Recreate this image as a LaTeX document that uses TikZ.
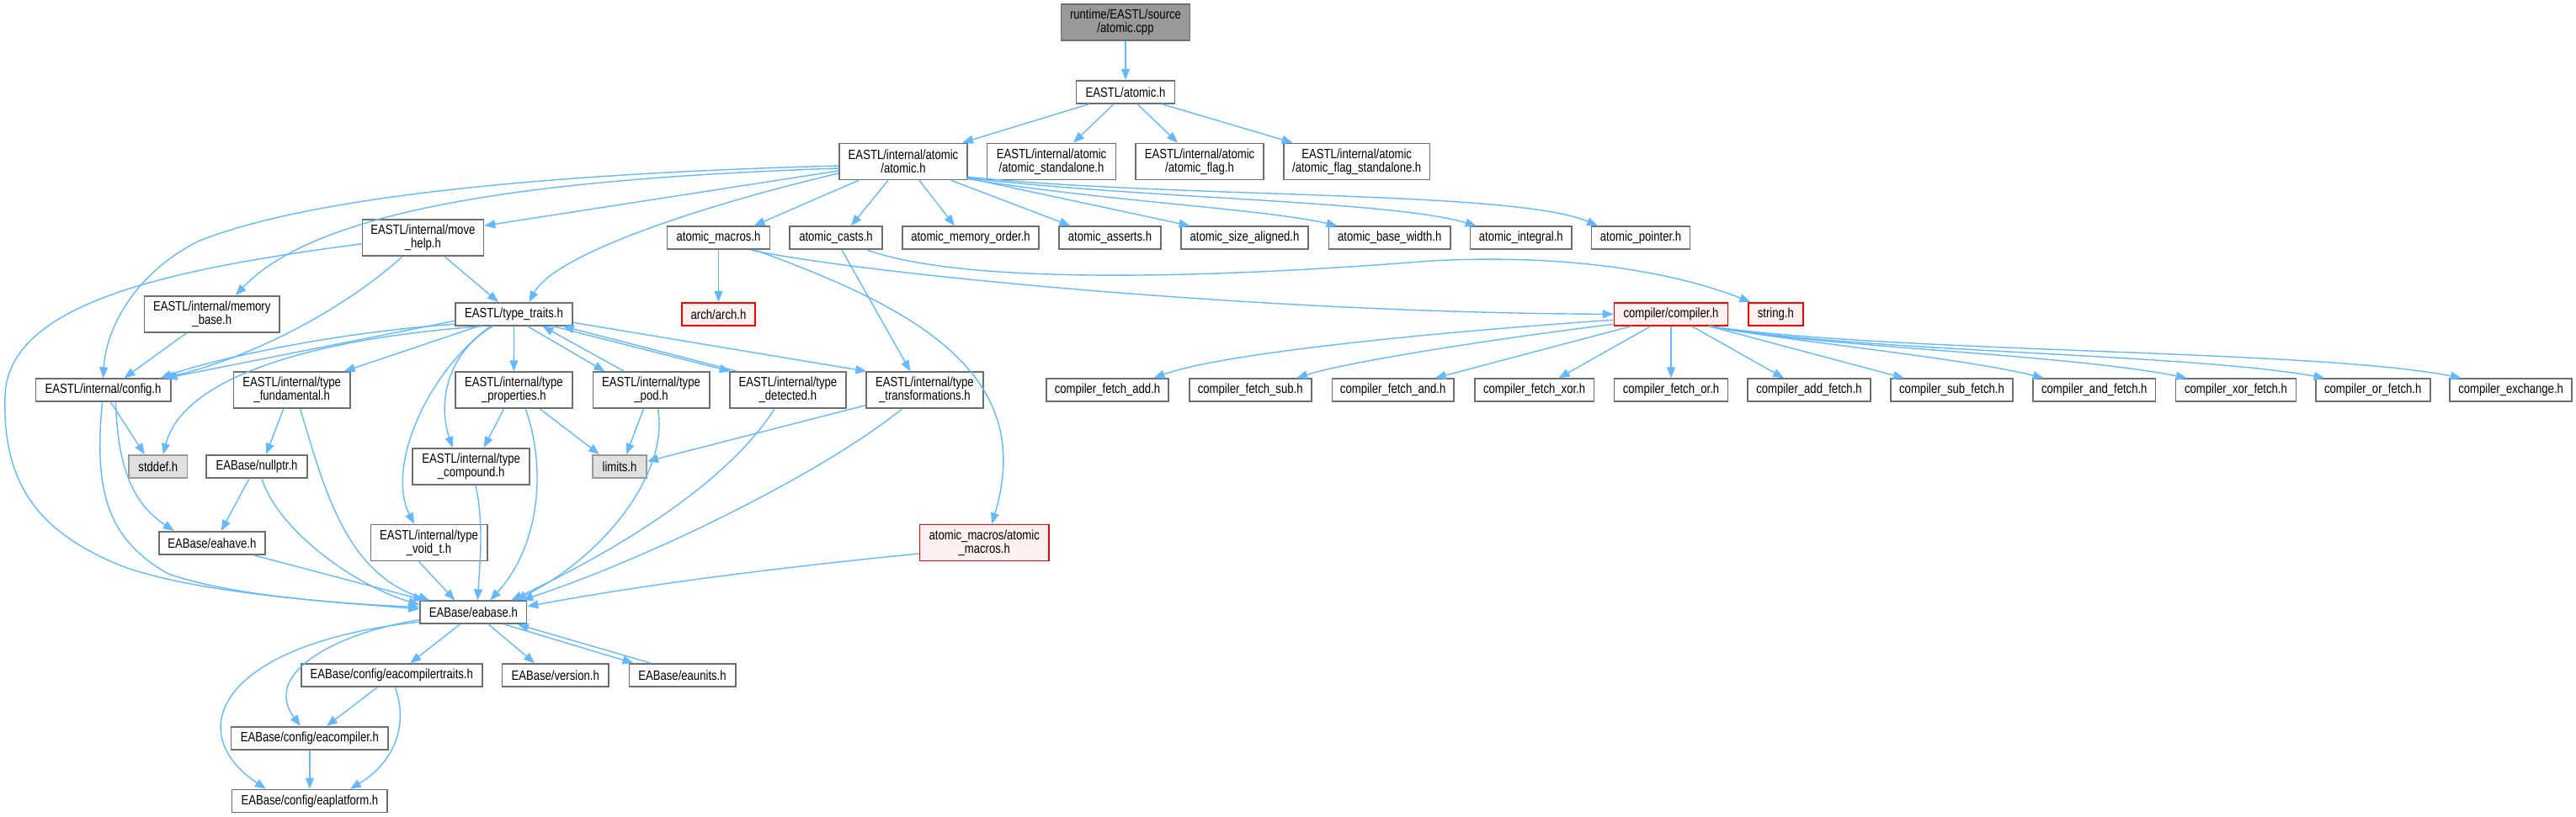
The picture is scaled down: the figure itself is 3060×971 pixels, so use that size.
\documentclass[tikz,border=0pt]{standalone}
\usepackage{fontspec}
\newfontfamily\dfont[FakeStretch=0.82]{Liberation Sans}
\usetikzlibrary{arrows.meta}
\definecolor{edgec}{HTML}{63B8FF}
\definecolor{ndborder}{HTML}{6E6E6E}
\definecolor{rootfill}{HTML}{999999}
\definecolor{sysfill}{HTML}{E0E0E0}
\definecolor{sysborder}{HTML}{999999}
\definecolor{truncfill}{HTML}{FFF0F0}
\definecolor{truncborder}{HTML}{FF0000}
\tikzset{
  nd/.style={draw=ndborder, fill=white, line width=1.7pt, minimum height=27pt, inner sep=0pt, align=center, font={\dfont\fontsize{16pt}{16pt}\selectfont}},
  two/.style={minimum height=43pt},
  rootnd/.style={fill=rootfill, draw=ndborder},
  sysnd/.style={fill=sysfill, draw=sysborder},
  truncnd/.style={fill=truncfill, draw=truncborder},
  e/.style={draw=edgec, line width=1.4pt, -{Triangle[length=13pt,width=10pt]}}
}
\begin{document}
\begin{tikzpicture}[x=1pt,y=-1pt]
\useasboundingbox (0,0) rectangle (3060,971);
% nodes
\node[nd,two,rootnd,minimum width=153pt] (root) at (1337,26.7) {runtime/EASTL/source\\/atomic.cpp};
\node[nd,minimum width=117pt] (atomich) at (1337,109.3) {EASTL/atomic.h};
\node[nd,two,minimum width=152pt] (iatomic) at (1073,192) {EASTL/internal/atomic\\/atomic.h};
\node[nd,two,minimum width=153pt] (standalone) at (1249,192) {EASTL/internal/atomic\\/atomic\_standalone.h};
\node[nd,two,minimum width=152.5pt] (flag) at (1425,192) {EASTL/internal/atomic\\/atomic\_flag.h};
\node[nd,two,minimum width=173.5pt] (flagsa) at (1611.7,192) {EASTL/internal/atomic\\/atomic\_flag\_standalone.h};
\node[nd,two,minimum width=144pt] (movehelp) at (502.4,282.8) {EASTL/internal/move\\\_help.h};
\node[nd,minimum width=122pt] (macros) at (853.5,282.7) {atomic\_macros.h};
\node[nd,minimum width=109.5pt] (casts) at (993,282.7) {atomic\_casts.h};
\node[nd,minimum width=161.5pt] (memorder) at (1153,282.7) {atomic\_memory\_order.h};
\node[nd,minimum width=121pt] (asserts) at (1318.5,282.7) {atomic\_asserts.h};
\node[nd,minimum width=150.5pt] (sizealigned) at (1478.5,282.7) {atomic\_size\_aligned.h};
\node[nd,minimum width=144.7pt] (basewidth) at (1650.7,282.7) {atomic\_base\_width.h};
\node[nd,minimum width=120.5pt] (integral) at (1806.8,282.7) {atomic\_integral.h};
\node[nd,minimum width=117pt] (pointer) at (1949,282.7) {atomic\_pointer.h};
\node[nd,two,minimum width=160.7pt] (membase) at (251.8,373.3) {EASTL/internal/memory\\\_base.h};
\node[nd,minimum width=139pt] (typetraits) at (610.5,373.3) {EASTL/type\_traits.h};
\node[nd,truncnd,minimum width=86.5pt] (arch) at (853.5,373.3) {arch/arch.h};
\node[nd,truncnd,minimum width=135pt] (compiler) at (1985,373.3) {compiler/compiler.h};
\node[nd,truncnd,minimum width=64.8pt] (stringh) at (2109.4,373.3) {string.h};
\node[nd,minimum width=160.3pt] (config) at (122.5,463.7) {EASTL/internal/config.h};
\node[nd,two,minimum width=138.2pt] (fundamental) at (346.7,463.7) {EASTL/internal/type\\\_fundamental.h};
\node[nd,two,minimum width=139pt] (properties) at (610.4,463.7) {EASTL/internal/type\\\_properties.h};
\node[nd,two,minimum width=138.3pt] (pod) at (773.5,463.7) {EASTL/internal/type\\\_pod.h};
\node[nd,two,minimum width=138.2pt] (detected) at (935.9,463.7) {EASTL/internal/type\\\_detected.h};
\node[nd,two,minimum width=138.8pt] (transformations) at (1098.4,463.7) {EASTL/internal/type\\\_transformations.h};
\node[nd,minimum width=145pt] (cfadd) at (1315.5,463.7) {compiler\_fetch\_add.h};
\node[nd,minimum width=145pt] (cfsub) at (1485.2,463.7) {compiler\_fetch\_sub.h};
\node[nd,minimum width=144.6pt] (cfand) at (1654.7,463.7) {compiler\_fetch\_and.h};
\node[nd,minimum width=141.8pt] (cfxor) at (1822.6,463.7) {compiler\_fetch\_xor.h};
\node[nd,minimum width=135pt] (cfor) at (1985,463.7) {compiler\_fetch\_or.h};
\node[nd,minimum width=145.4pt] (caddf) at (2149,463.7) {compiler\_add\_fetch.h};
\node[nd,minimum width=145.4pt] (csubf) at (2318.5,463.7) {compiler\_sub\_fetch.h};
\node[nd,minimum width=145.4pt] (candf) at (2487.8,463.7) {compiler\_and\_fetch.h};
\node[nd,minimum width=143pt] (cxorf) at (2656,463.7) {compiler\_xor\_fetch.h};
\node[nd,minimum width=136pt] (corf) at (2818.7,463.7) {compiler\_or\_fetch.h};
\node[nd,minimum width=144.8pt] (cexch) at (2982.6,463.7) {compiler\_exchange.h};
\node[nd,sysnd,minimum width=69.4pt] (stddef) at (187.8,554.3) {stddef.h};
\node[nd,minimum width=119.4pt] (nullptr) at (305,554.3) {EABase/nullptr.h};
\node[nd,two,minimum width=138.8pt] (compound) at (559.7,554.3) {EASTL/internal/type\\\_compound.h};
\node[nd,sysnd,minimum width=64pt] (limits) at (736,554.3) {limits.h};
\node[nd,minimum width=126pt] (eahave) at (251.8,645.3) {EABase/eahave.h};
\node[nd,two,minimum width=138.3pt] (voidt) at (509.5,645) {EASTL/internal/type\\\_void\_t.h};
\node[nd,two,truncnd,minimum width=153.5pt] (amacros) at (1169.2,645) {atomic\_macros/atomic\\\_macros.h};
\node[nd,minimum width=126.5pt] (eabase) at (562.3,727.7) {EABase/eabase.h};
\node[nd,minimum width=215.3pt] (traits) at (465.3,802.5) {EABase/config/eacompilertraits.h};
\node[nd,minimum width=126.6pt] (version) at (659.7,802.5) {EABase/version.h};
\node[nd,minimum width=126.3pt] (eaunits) at (810.5,802.5) {EABase/eaunits.h};
\node[nd,minimum width=186.7pt] (eacompiler) at (367.9,877.2) {EABase/config/eacompiler.h};
\node[nd,minimum width=184.7pt] (eaplatform) at (367.9,952) {EABase/config/eaplatform.h};
% edges
\draw[e] (root) -- (atomich);
\draw[e] ([xshift=-43pt]atomich.south) -- ([xshift=70pt]iatomic.north);
\draw[e] ([xshift=-14pt]atomich.south) -- ([xshift=26pt]standalone.north);
\draw[e] ([xshift=14pt]atomich.south) -- ([xshift=-26pt]flag.north);
\draw[e] ([xshift=43pt]atomich.south) -- ([xshift=-76pt]flagsa.north);
% from internal atomic.h
\draw[e] ([xshift=-53pt]iatomic.south) -- ([xshift=42pt]macros.north);
\draw[e] ([xshift=-18pt]iatomic.south) -- ([xshift=18pt]casts.north);
\draw[e] ([xshift=19pt]iatomic.south) -- ([xshift=-19pt]memorder.north);
\draw[e] ([xshift=57pt]iatomic.south) -- ([xshift=-47pt]asserts.north);
\draw[e] ([xshift=-2pt,yshift=3pt]iatomic.south east) -- ([xshift=-65pt]sizealigned.north);
\draw[e] ([xshift=-1pt,yshift=2pt]iatomic.south east) .. controls (1300,238) and (1500,248) .. ([xshift=-62pt]basewidth.north);
\draw[e] ([yshift=3pt]iatomic.south east) .. controls (1350,236) and (1650,238) .. ([xshift=-53pt]integral.north);
\draw[e] ([yshift=4pt]iatomic.south east) .. controls (1400,236) and (1800,226) .. ([xshift=-51pt]pointer.north);
\draw[e] ([yshift=-11pt]iatomic.west) -- ([yshift=14.5pt]movehelp.east);
\draw[e] ([yshift=-14pt]iatomic.west) .. controls (850,240) and (660,300) .. ([xshift=18pt]typetraits.north);
\draw[e] ([yshift=-5pt]iatomic.west) .. controls (700,205) and (380,228) .. (235,287) .. controls (160,325) and (126,390) .. (config.north);
\draw[e] ([yshift=-8pt]iatomic.west) .. controls (650,212) and (380,245) .. ([xshift=28pt]membase.north);
% move_help
\draw[e] ([xshift=26pt]movehelp.south) -- ([xshift=-18.5pt]typetraits.north);
\draw[e] ([xshift=-25pt]movehelp.south) .. controls (430,350) and (320,420) .. ([xshift=72pt]config.north);
\draw[e] ([yshift=-7pt]movehelp.west) .. controls (200,320) and (10,360) .. (6,470) .. controls (3,570) and (40,630) .. (143,672) .. controls (230,705) and (400,716) .. ([yshift=4pt]eabase.west);
% memory_base
\draw[e] ([xshift=-30pt]membase.south) -- ([xshift=25pt]config.north);
% type_traits
\draw[e] ([yshift=-8pt]typetraits.west) -- ([xshift=75pt]config.north);
\draw[e] ([yshift=-12pt]typetraits.west) .. controls (400,395) and (260,425) .. ([xshift=68pt]config.north);
\draw[e] ([xshift=-36pt]typetraits.south) .. controls (400,400) and (220,440) .. ([xshift=6pt]stddef.north);
\draw[e] ([xshift=-42pt]typetraits.south) -- ([xshift=62pt]fundamental.north);
\draw[e] ([xshift=-28pt]typetraits.south) .. controls (500,450) and (460,560) .. ([xshift=-17.5pt]voidt.north);
\draw[e] ([xshift=-25pt]typetraits.south) .. controls (530,420) and (520,480) .. ([xshift=-22pt]compound.north);
\draw[e] (typetraits) -- (properties);
\draw[e] ([xshift=16pt]typetraits.south) -- ([xshift=-55pt]pod.north);
\draw[e] ([xshift=-32pt]pod.north) -- ([xshift=34pt]typetraits.south);
\draw[e] ([xshift=46pt]typetraits.south) -- ([xshift=-68pt]detected.north);
\draw[e] ([xshift=-60pt]detected.north) -- ([xshift=58pt]typetraits.south);
\draw[e] ([yshift=-10pt]typetraits.east) -- ([xshift=-69pt]transformations.north);
% pod, properties, detected, transformations
\draw[e] ([xshift=-9pt]pod.south) -- ([xshift=8pt]limits.north);
\draw[e] ([xshift=8pt]pod.south) .. controls (795,560) and (720,660) .. ([xshift=50pt]eabase.north);
\draw[e] ([xshift=-12pt]properties.south) -- ([xshift=15pt]compound.north);
\draw[e] ([xshift=31pt]properties.south) -- ([xshift=-24pt]limits.north);
\draw[e] ([xshift=14pt]properties.south) .. controls (650,560) and (640,650) .. ([xshift=20pt]eabase.north);
\draw[e] ([xshift=-16pt]detected.south) .. controls (860,580) and (720,660) .. ([xshift=45pt]eabase.north);
\draw[e] ([yshift=-18pt]transformations.west) -- ([yshift=6pt]limits.east);
\draw[e] ([xshift=-27pt]transformations.south) .. controls (980,560) and (780,660) .. ([xshift=58pt]eabase.north);
\draw[e] (compound) .. controls (575,620) and (570,670) .. ([xshift=5pt]eabase.north);
\draw[e] ([xshift=-12pt]voidt.south) -- ([xshift=-22pt]eabase.north);
% fundamental, nullptr, eahave, config
\draw[e] ([xshift=-10pt]fundamental.south) -- ([xshift=11pt]nullptr.north);
\draw[e] ([xshift=10pt]fundamental.south) .. controls (385,580) and (410,680) .. ([xshift=-52pt]eabase.north);
\draw[e] ([xshift=-9pt]nullptr.south) -- ([xshift=11pt]eahave.north);
\draw[e] ([xshift=6pt]nullptr.south) .. controls (330,630) and (420,695) .. ([yshift=9pt]eabase.west);
\draw[e] ([xshift=49pt]eahave.south) -- ([xshift=-58pt]eabase.north);
\draw[e] ([xshift=9pt]config.south) -- ([xshift=-16pt]stddef.north);
\draw[e] ([xshift=15pt]config.south) .. controls (140,560) and (160,600) .. ([xshift=-45pt]eahave.north);
\draw[e] ([xshift=-1pt]config.south) .. controls (112,580) and (125,640) .. (200,682) .. controls (280,710) and (420,718) .. ([yshift=6pt]eabase.west);
% eabase
\draw[e] ([yshift=-9pt]eabase.west) .. controls (400,752) and (310,800) .. ([xshift=-11pt]eacompiler.north);
\draw[e] ([yshift=-11.5pt]eabase.west) .. controls (260,765) and (215,870) .. ([xshift=-52pt]eaplatform.north);
\draw[e] ([xshift=-16pt]eabase.south) -- ([xshift=22pt]traits.north);
\draw[e] ([xshift=18pt]eabase.south) -- ([xshift=-24.5pt]version.north);
\draw[e] ([xshift=37pt]eabase.south) -- ([xshift=-58pt]eaunits.north);
\draw[e] ([xshift=-37.5pt]eaunits.north) -- ([xshift=52.5pt]eabase.south);
\draw[e] ([xshift=-17pt]traits.south) -- ([xshift=20pt]eacompiler.north);
\draw[e] ([xshift=4pt]traits.south) .. controls (485,860) and (470,905) .. ([xshift=48pt]eaplatform.north);
\draw[e] (eacompiler) -- (eaplatform);
% atomic_macros, atomic_casts
\draw[e] (macros) -- (arch);
\draw[e] ([xshift=38pt]macros.south) .. controls (1020,325) and (1500,372) .. (compiler.west);
\draw[e] ([xshift=43pt]macros.south) .. controls (1100,370) and (1230,450) .. ([xshift=9pt]amacros.north);
\draw[e] ([xshift=7pt]casts.south) -- ([xshift=-17pt]transformations.north);
\draw[e] ([xshift=37pt]casts.south) .. controls (1150,340) and (1450,330) .. (1700,310) .. controls (1850,302) and (1980,320) .. ([xshift=-30pt]stringh.north);
\draw[e] ([yshift=-13pt]amacros.west) .. controls (950,672) and (780,692) .. ([yshift=7pt]eabase.east);
% compiler.h
\draw[e] ([yshift=-7pt]compiler.west) .. controls (1700,395) and (1450,420) .. ([xshift=55pt]cfadd.north);
\draw[e] ([yshift=-12pt]compiler.west) .. controls (1780,402) and (1600,430) .. ([xshift=55pt]cfsub.north);
\draw[e] ([xshift=-47pt]compiler.south) -- ([xshift=50pt]cfand.north);
\draw[e] ([xshift=-24pt]compiler.south) -- ([xshift=29pt]cfxor.north);
\draw[e] (compiler) -- (cfor);
\draw[e] ([xshift=24.6pt]compiler.south) -- ([xshift=-30pt]caddf.north);
\draw[e] ([xshift=45pt]compiler.south) -- ([xshift=-56.5pt]csubf.north);
\draw[e] ([xshift=45pt]compiler.south) .. controls (2120,405) and (2330,425) .. ([xshift=-60pt]candf.north);
\draw[e] ([xshift=45pt]compiler.south) .. controls (2150,412) and (2450,420) .. ([xshift=-58pt]cxorf.north);
\draw[e] ([xshift=45pt]compiler.south) .. controls (2200,418) and (2600,420) .. ([xshift=-57pt]corf.north);
\draw[e] ([xshift=45pt]compiler.south) .. controls (2250,420) and (2750,415) .. ([xshift=-58.6pt]cexch.north);
\end{tikzpicture}
\end{document}
